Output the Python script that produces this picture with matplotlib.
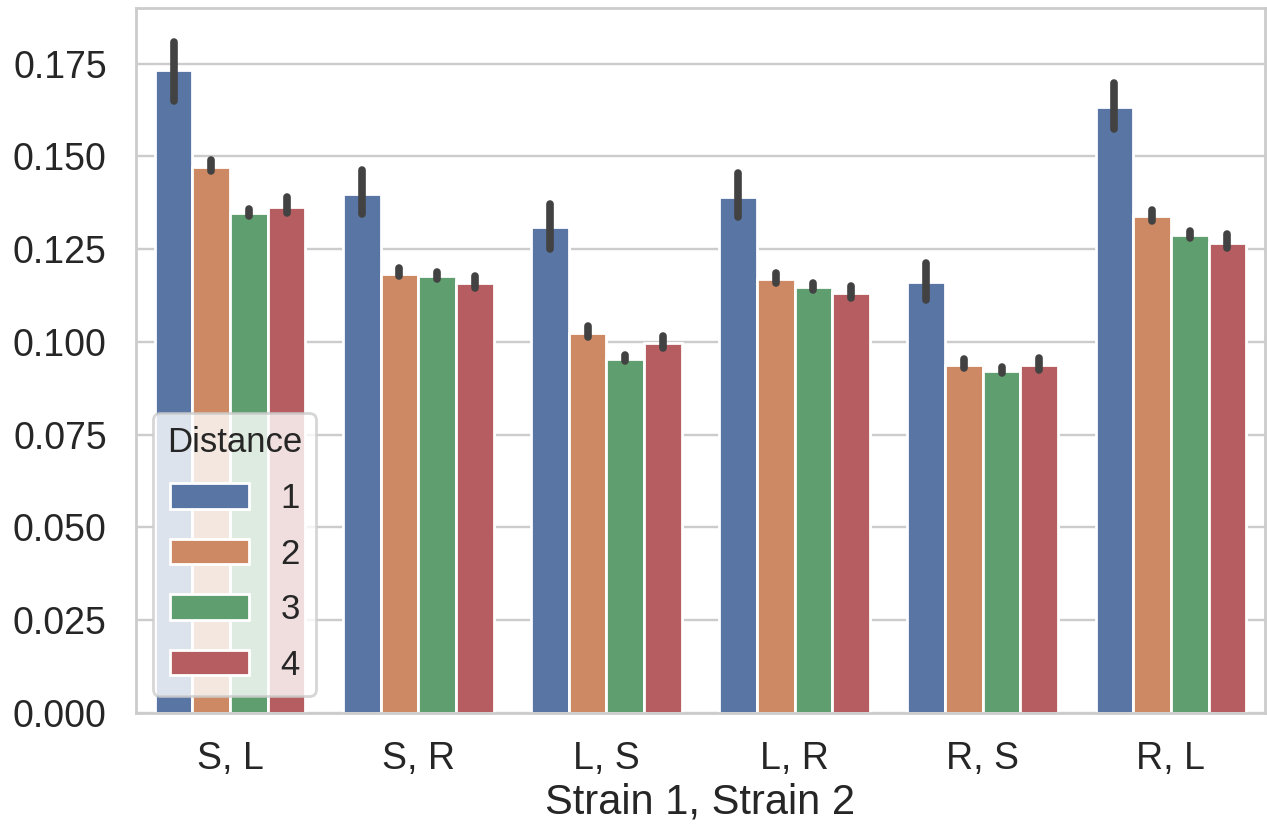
import matplotlib
matplotlib.use("Agg")
import matplotlib.pyplot as plt
from matplotlib.patches import Patch
import numpy as np

plt.rcParams['font.family'] = ['Liberation Sans', 'DejaVu Sans']

# Strain pairings along the x axis
pairs = ["S, L", "S, R", "L, S", "L, R", "R, S", "R, L"]
distances = ["1", "2", "3", "4"]
colors = ["#5975a4", "#cc8963", "#5f9e6e", "#b55d60"]

# Mean value per pairing for each distance
mean_d1 = [0.1732, 0.1398, 0.1310, 0.1391, 0.1162, 0.1634]
mean_d2 = [0.1471, 0.1183, 0.1025, 0.1169, 0.0939, 0.1339]
mean_d3 = [0.1347, 0.1178, 0.0955, 0.1148, 0.0923, 0.1288]
mean_d4 = [0.1364, 0.1158, 0.0997, 0.1133, 0.0938, 0.1268]

# Confidence interval bounds (low / high)
lo_d1 = [0.1650, 0.1344, 0.1250, 0.1338, 0.1113, 0.1575]
hi_d1 = [0.1808, 0.1463, 0.1372, 0.1455, 0.1214, 0.1697]
lo_d2 = [0.1461, 0.1178, 0.1012, 0.1158, 0.0930, 0.1325]
hi_d2 = [0.1490, 0.1198, 0.1043, 0.1185, 0.0954, 0.1356]
lo_d3 = [0.1340, 0.1170, 0.0948, 0.1140, 0.0916, 0.1280]
hi_d3 = [0.1358, 0.1189, 0.0964, 0.1158, 0.0933, 0.1299]
lo_d4 = [0.1347, 0.1146, 0.0984, 0.1118, 0.0924, 0.1254]
hi_d4 = [0.1390, 0.1178, 0.1017, 0.1152, 0.0956, 0.1290]

yticks = [0.000, 0.025, 0.050, 0.075, 0.100, 0.125, 0.150, 0.175]

means = [mean_d1, mean_d2, mean_d3, mean_d4]
lows = [lo_d1, lo_d2, lo_d3, lo_d4]
highs = [hi_d1, hi_d2, hi_d3, hi_d4]

text_color = "#262626"
frame_color = "#cccccc"

fig = plt.figure(figsize=(12.67, 8.24), dpi=100)
ax = fig.add_axes([136 / 1267, 111 / 824, (1265 - 136) / 1267, (713 - 8) / 824])
ax.set_axisbelow(True)

x = np.arange(len(pairs))
bar_w = 0.2
for j, (m, lo, hi, c) in enumerate(zip(means, lows, highs, colors)):
    xpos = x + (j - 1.5) * bar_w
    ax.bar(xpos, m, width=bar_w, color=c, edgecolor="white", linewidth=2.0, zorder=2)
    for xp, l, h in zip(xpos, lo, hi):
        ax.plot([xp, xp], [l, h], color="#424242", linewidth=5.5,
                solid_capstyle="round", zorder=3)

ax.set_xlim(-0.5, len(pairs) - 0.5)
ax.set_ylim(0, 0.190)
ax.set_xticks(x)
ax.set_xticklabels(pairs)
ax.set_yticks(yticks)
ax.set_yticklabels([f"{v:.3f}" for v in yticks])

ax.tick_params(axis="both", length=0, labelsize=27, labelcolor=text_color)
ax.tick_params(axis="y", pad=21)
ax.tick_params(axis="x", pad=20)

ax.grid(axis="y", color=frame_color, linewidth=1.7)
ax.grid(axis="x", visible=False)
for s in ax.spines.values():
    s.set_color(frame_color)
    s.set_linewidth(2.0)

ax.set_xlabel("Strain 1, Strain 2", fontsize=30, color=text_color, labelpad=4)

handles = [Patch(facecolor=c, edgecolor="white", linewidth=2.0) for c in colors]
leg = ax.legend(handles, distances, title="Distance", loc="lower left",
                fontsize=25, title_fontsize=25, frameon=True, framealpha=0.8,
                edgecolor=frame_color, handlelength=2.3, handleheight=0.75,
                labelspacing=0.65, handletextpad=0.9, borderaxespad=0.5,
                labelcolor=text_color)
leg.get_title().set_color(text_color)
leg.get_frame().set_linewidth(2.0)

fig.savefig("out.png", dpi=100)
